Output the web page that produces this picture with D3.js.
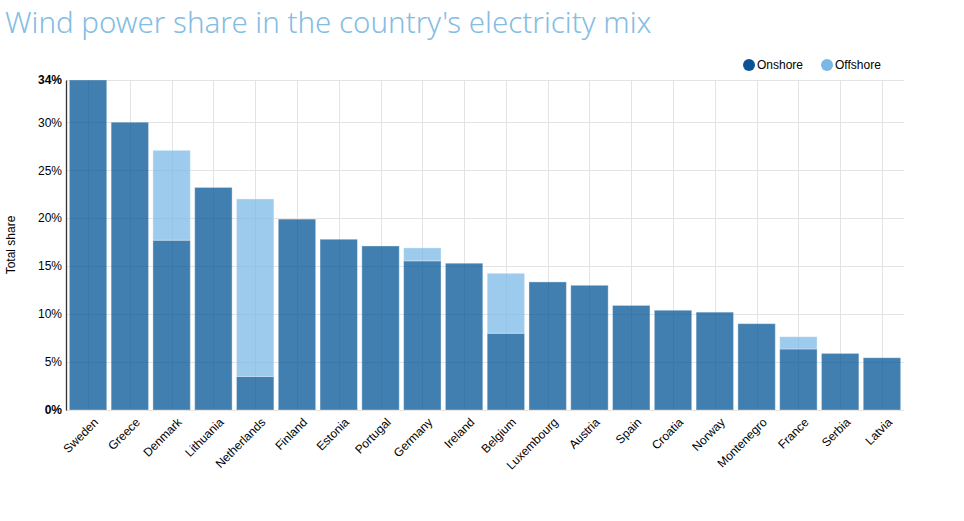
<!DOCTYPE html>
<html lang="en">
<head>
<meta charset="UTF-8">
<title>Wind power share</title>
<script src="https://d3js.org/d3.v7.min.js"></script>
<style>
  body { margin: 0; background: #fff; font-family: "Liberation Sans", Arial, sans-serif; }
  .grid line { stroke: #e3e3e3; stroke-width: 1; }
</style>
</head>
<body>
<svg id="chart" width="964" height="521"></svg>
<script>
// data (percent of electricity mix)
const countries = ["Sweden", "Greece", "Denmark", "Lithuania", "Netherlands", "Finland", "Estonia",
  "Portugal", "Germany", "Ireland", "Belgium", "Luxembourg", "Austria", "Spain", "Croatia",
  "Norway", "Montenegro", "France", "Serbia", "Latvia"];
const onshore = [34.4, 30.0, 17.7, 23.2, 3.5, 19.9, 17.8, 17.1, 15.55, 15.3, 8.0, 13.35, 13.0,
  10.9, 10.4, 10.2, 9.0, 6.36, 5.9, 5.45];
const offshore = [0, 0, 9.37, 0, 18.5, 0, 0, 0, 1.35, 0, 6.25, 0, 0, 0, 0, 0, 0, 1.28, 0, 0];
const seriesNames = ["Onshore", "Offshore"];
const yTicks = [0, 5, 10, 15, 20, 25, 30, 34.4];

const colors = { Onshore: "#005496", Offshore: "#7bbae8" };
const legendColors = { Onshore: "#0b5394", Offshore: "#7ab8e6" };

const svg = d3.select("#chart");
const plotLeft = 66, plotRight = 904, plotTop = 80, plotBottom = 410;

const rows = countries.map((c, i) => ({ country: c, Onshore: onshore[i], Offshore: offshore[i] }));
const stacked = d3.stack().keys(seriesNames)(rows);

const x = d3.scaleBand()
  .domain(countries)
  .range([plotLeft, plotRight])
  .paddingInner(0.105)
  .paddingOuter(0.08);

const y = d3.scaleLinear()
  .domain([0, d3.max(yTicks)])
  .range([plotBottom, plotTop]);

// title
svg.append("text")
  .attr("x", 5)
  .attr("y", 33)
  .attr("font-family", "'Noto Sans', sans-serif")
  .attr("font-weight", 300)
  .attr("font-size", 29.5)
  .attr("fill", "#84bde3")
  .text("Wind power share in the country's electricity mix");

// grid
const grid = svg.append("g").attr("class", "grid");
grid.selectAll(".h")
  .data(yTicks)
  .join("line")
  .attr("x1", plotLeft).attr("x2", plotRight)
  .attr("y1", d => Math.round(y(d)) + 0.5).attr("y2", d => Math.round(y(d)) + 0.5);
grid.selectAll(".v")
  .data(countries)
  .join("line")
  .attr("x1", d => Math.round(x(d) + x.bandwidth() / 2) + 0.5)
  .attr("x2", d => Math.round(x(d) + x.bandwidth() / 2) + 0.5)
  .attr("y1", plotTop).attr("y2", plotBottom);

// bars
svg.append("g")
  .selectAll("g")
  .data(stacked)
  .join("g")
  .attr("fill", d => colors[d.key])
  .selectAll("rect")
  .data(d => d.filter(p => p[1] - p[0] > 0))
  .join("rect")
  .attr("x", d => x(d.data.country))
  .attr("width", x.bandwidth())
  .attr("y", d => y(d[1]))
  .attr("height", d => y(d[0]) - y(d[1]))
  .attr("fill-opacity", 0.75)
  .attr("stroke", "#ffffff")
  .attr("stroke-opacity", 0.35)
  .attr("stroke-width", 1);

// y axis
const yAxis = d3.axisLeft(y)
  .tickValues(yTicks)
  .tickSize(0)
  .tickPadding(4)
  .tickFormat(d => Math.round(d) + "%");
const yg = svg.append("g")
  .attr("transform", `translate(${plotLeft},0)`)
  .call(yAxis);
yg.select(".domain").attr("stroke", "#333").attr("stroke-width", 1.3);
yg.selectAll(".tick text")
  .attr("font-size", 12)
  .attr("font-family", "'Liberation Sans', Arial, sans-serif")
  .attr("fill", "#000")
  .attr("font-weight", d => (d === 0 || d === d3.max(yTicks)) ? "bold" : "normal");

svg.append("text")
  .attr("transform", `translate(15,${(plotTop + plotBottom) / 2}) rotate(-90)`)
  .attr("text-anchor", "middle")
  .attr("font-size", 12)
  .attr("fill", "#000")
  .text("Total share");

// x axis labels
const xAxis = d3.axisBottom(x).tickSize(0).tickPadding(0);
const xg = svg.append("g")
  .attr("transform", `translate(0,${plotBottom})`)
  .call(xAxis);
xg.select(".domain").remove();
xg.selectAll(".tick text")
  .attr("font-size", 12)
  .attr("font-family", "'Liberation Sans', Arial, sans-serif")
  .attr("fill", "#000")
  .attr("text-anchor", "end")
  .attr("dy", 0)
  .attr("transform", "translate(11,13) rotate(-45)");

// legend
const legend = svg.append("g").attr("transform", "translate(749,65)");
const items = legend.selectAll("g")
  .data(seriesNames)
  .join("g")
  .attr("transform", (d, i) => `translate(${i * 78},0)`);
items.append("circle")
  .attr("r", 6)
  .attr("fill", d => legendColors[d]);
items.append("text")
  .attr("x", 8)
  .attr("y", 4)
  .attr("font-size", 12)
  .attr("fill", "#000")
  .text(d => d);
</script>
</body>
</html>
